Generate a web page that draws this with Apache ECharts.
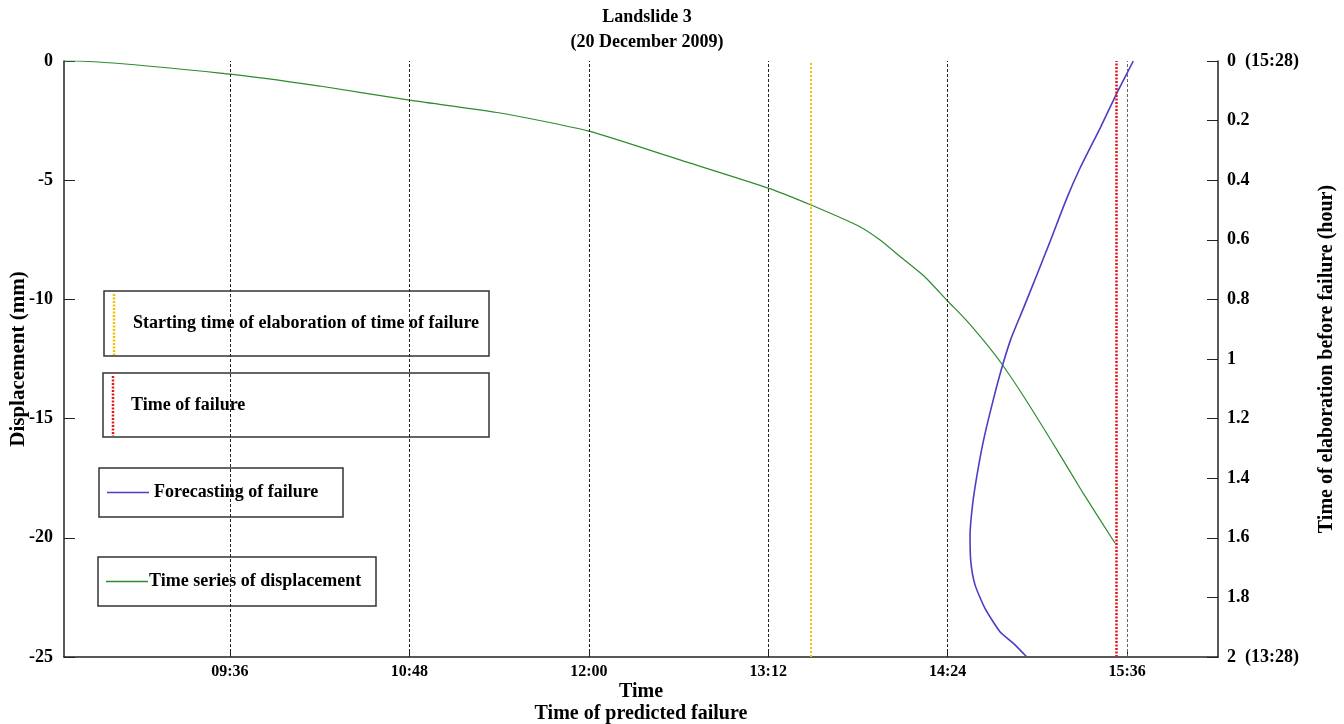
<!DOCTYPE html>
<html>
<head>
<meta charset="utf-8">
<script src="https://cdn.jsdelivr.net/npm/echarts@6/dist/echarts.min.js"></script>
<style>
html,body{margin:0;padding:0;background:#fff;}
#chart{width:1344px;height:724px;}
</style>
</head>
<body>
<div id="chart"></div>
<script>
// ---- Data (times are minutes after midnight) ----
const xRange = [509.4, 972.5];
const tickTimes = [576, 648, 720, 792, 864, 936];           // 09:36 ... 15:36
const startElaborationTime = 809;                            // yellow line
const failureTime = 931.5;                                   // red line

const dispTime = [509.4, 513.8, 576, 612, 648, 684.5, 720, 756.6, 792, 809.2, 828.8, 836.9, 844.9, 854.9, 864.3, 871.7, 881.0, 885.7, 894.4, 907.8, 918.5, 931.2];
const dispMm   = [0, 0, -0.55, -1.05, -1.64, -2.18, -2.94, -4.15, -5.33, -6.04, -6.95, -7.51, -8.20, -9.06, -10.10, -10.90, -12.05, -12.70, -14.05, -16.30, -18.15, -20.23];

const forecastTime = [938.5, 931.9, 925.2, 917.1, 911.8, 905.1, 899.8, 894.4, 889.5, 885.5, 881.8, 878.3, 875.8, 874.0, 873.0, 873.3, 875.0, 879.0, 885.0, 890.4, 895.7];
const elabHours    = [0, 0.108, 0.225, 0.360, 0.461, 0.606, 0.718, 0.830, 0.930, 1.037, 1.154, 1.277, 1.389, 1.490, 1.591, 1.680, 1.758, 1.837, 1.915, 1.954, 1.999];

const rightEndLabels = { '0': '0  (15:28)', '2': '2  (13:28)' };
const titleLines = ['Landslide 3', '(20 December 2009)'];
const legendItems = [
  'Starting time of elaboration of time of failure',
  'Time of failure',
  'Forecasting of failure',
  'Time series of displacement'
];

// ---- Helpers ----
const FONT = 'Liberation Serif';
function hhmm(v) {
  const m = Math.round(v);
  const h = Math.floor(m / 60), mm = m % 60;
  return String(h).padStart(2, '0') + ':' + String(mm).padStart(2, '0');
}
const labelStyle = { fontFamily: FONT, fontWeight: 'bold', color: '#000' };

const chart = echarts.init(document.getElementById('chart'), null, { renderer: 'canvas' });

const greenData = dispTime.map((t, i) => [t, dispMm[i]]);
const blueData = forecastTime.map((t, i) => [t, elabHours[i]]);

const guideLines = tickTimes.map((t, i) => ({
  xAxis: t,
  lineStyle: { color: i === tickTimes.length - 1 ? '#666' : '#222', width: 1, type: [3, 2] }
}));
guideLines.push({ xAxis: startElaborationTime, lineStyle: { color: '#f2c200', width: 2, type: [2, 2] } });
guideLines.push({ xAxis: failureTime, lineStyle: { color: '#e3161c', width: 2.5, type: [2, 1.5] } });

function legendBox(x, y, w, h, kind, text, color, textX) {
  const children = [
    { type: 'rect', shape: { x: x, y: y, width: w, height: h }, style: { fill: '#fff', stroke: '#333', lineWidth: 1.5 } }
  ];
  const cy = y + h / 2;
  if (kind === 'vdot') {
    children.push({ type: 'line', shape: { x1: x + 10, y1: y + 3, x2: x + 10, y2: y + h - 1 },
      style: { stroke: color, lineWidth: 2.5, lineDash: [2, 1.5] } });
  } else {
    children.push({ type: 'line', shape: { x1: x + 8, y1: cy, x2: x + 50, y2: cy },
      style: { stroke: color, lineWidth: 1.5 } });
  }
  children.push({ type: 'text', style: { text: text, x: textX, y: cy, verticalAlign: 'middle',
    font: 'bold 18px "' + FONT + '"', fill: '#000' } });
  return { type: 'group', children: children, z: 100 };
}

const option = {
  backgroundColor: '#fff',
  animation: false,
  grid: { left: 64, right: 126, top: 61, bottom: 67, containLabel: false, outerBoundsMode: 'none' },
  xAxis: {
    type: 'value', min: xRange[0], max: xRange[1],
    name: 'Time\nTime of predicted failure', nameLocation: 'middle', nameGap: 24, nameMoveOverlap: false,
    nameTextStyle: { fontFamily: FONT, fontWeight: 'bold', fontSize: 20, color: '#000', lineHeight: 22, verticalAlign: 'top' },
    axisLine: { show: true, onZero: false, lineStyle: { color: '#222', width: 1.5 } },
    axisTick: { show: true, inside: true, length: 8, customValues: tickTimes, lineStyle: { color: '#222' } },
    axisLabel: Object.assign({ customValues: tickTimes, formatter: hhmm, fontSize: 16, margin: 7 }, labelStyle),
    splitLine: { show: false }
  },
  yAxis: [
    {
      type: 'value', min: -25, max: 0, interval: 5, position: 'left',
      name: 'Displacement (mm)', nameLocation: 'middle', nameGap: 35, nameRotate: 90, nameMoveOverlap: false,
      nameTextStyle: { fontFamily: FONT, fontWeight: 'bold', fontSize: 21, color: '#000' },
      axisLine: { show: true, onZero: false, lineStyle: { color: '#222', width: 1.5 } },
      axisTick: { show: true, inside: true, length: 11, lineStyle: { color: '#222' } },
      axisLabel: Object.assign({ fontSize: 18, margin: 11 }, labelStyle),
      splitLine: { show: false }
    },
    {
      type: 'value', min: 0, max: 2, interval: 0.2, position: 'right', inverse: true,
      name: 'Time of elaboration before failure (hour)', nameLocation: 'middle', nameGap: 99, nameRotate: 90, nameMoveOverlap: false,
      nameTextStyle: { fontFamily: FONT, fontWeight: 'bold', fontSize: 20, color: '#000' },
      axisLine: { show: true, onZero: false, lineStyle: { color: '#222', width: 1.5 } },
      axisTick: { show: true, inside: true, length: 11, lineStyle: { color: '#222' } },
      axisLabel: Object.assign({
        fontSize: 18, margin: 9,
        formatter: function (v) {
          const k = String(+v.toFixed(1));
          return rightEndLabels[k] || k;
        }
      }, labelStyle),
      splitLine: { show: false }
    }
  ],
  series: [
    {
      name: legendItems[3], type: 'line', xAxisIndex: 0, yAxisIndex: 0,
      data: greenData, smooth: 0.2, showSymbol: false, symbol: 'none',
      lineStyle: { color: '#2e8b2e', width: 1.2 }, z: 3,
      markLine: { silent: true, symbol: 'none', label: { show: false }, data: guideLines, animation: false }
    },
    {
      name: legendItems[2], type: 'line', xAxisIndex: 0, yAxisIndex: 1,
      data: blueData, smooth: 0.2, showSymbol: false, symbol: 'none',
      lineStyle: { color: '#4a3fc4', width: 1.6 }, z: 4
    }
  ],
  graphic: [
    { type: 'text', z: 100, style: { text: titleLines.join('\n'), x: 647, y: 5, textAlign: 'center',
      font: 'bold 18px "' + FONT + '"', lineHeight: 25, fill: '#000' } },
    legendBox(104, 291, 385, 65, 'vdot', legendItems[0], '#f2c200', 133),
    legendBox(103, 373, 386, 64, 'vdot', legendItems[1], '#e3161c', 131),
    legendBox(99, 468, 244, 49, 'hline', legendItems[2], '#4a3fc4', 154),
    legendBox(98, 557, 278, 49, 'hline', legendItems[3], '#2e8b2e', 149)
  ]
};
chart.setOption(option);
</script>
</body>
</html>
